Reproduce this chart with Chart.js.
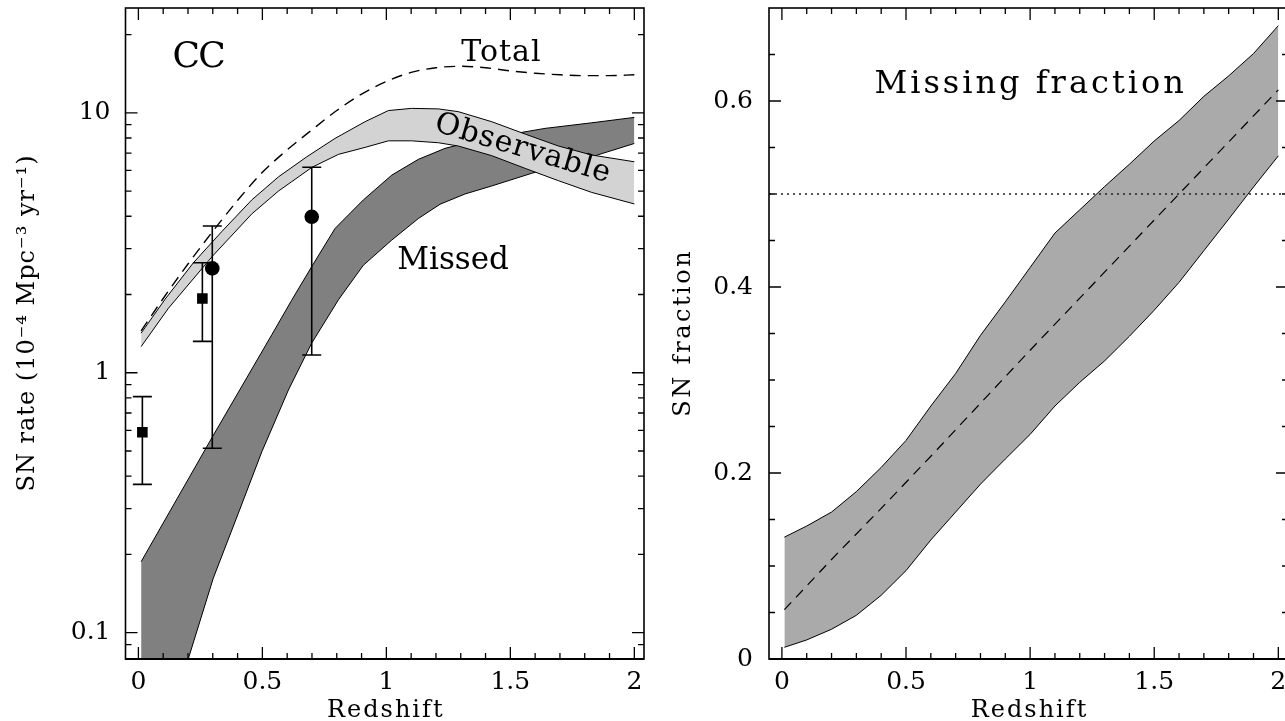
<!DOCTYPE html>
<html><head><meta charset="utf-8">
<script src="https://cdn.jsdelivr.net/npm/chart.js@4.4.1/dist/chart.umd.min.js"></script>
<style>
html,body{margin:0;padding:0;background:#fff;overflow:hidden;width:1285px;height:721px;}
#l{position:absolute;left:0;top:0;width:660px;height:721px;}
#r{position:absolute;left:660px;top:0;width:628px;height:721px;}
</style></head><body>
<div id="l"><canvas id="cl"></canvas></div>
<div id="r"><canvas id="cr"></canvas></div>
<script>
// ---------- data ----------
// Left panel: core-collapse SN rate (10^-4 Mpc^-3 yr^-1) vs redshift
const totalZ    = [0.011,0.1,0.2,0.3,0.4,0.5,0.6,0.7,0.8,0.9,1.0,1.1,1.2,1.3,1.4,1.5,1.6,1.7,1.8,1.9,2.0];
const totalRate = [1.45,1.93,2.62,3.5,4.6,5.9,7.2,8.6,10.2,11.8,13.2,14.3,14.9,15.1,14.9,14.5,14.2,14.0,13.9,13.9,14.0];

const obsUpperZ    = [0.011,0.108,0.222,0.336,0.457,0.565,0.679,0.793,0.914,1.008,1.102,1.21,1.29,1.425,1.56,1.694,1.828,2.0];
const obsUpperRate = [1.42,1.92,2.65,3.49,4.62,5.67,6.77,7.97,9.24,10.2,10.4,10.35,10.1,9.24,8.28,7.45,6.88,6.48];
const obsLowerZ    = [0.011,0.121,0.299,0.457,0.565,0.70,0.807,0.914,1.008,1.102,1.21,1.29,1.425,1.56,1.694,1.828,2.0];
const obsLowerRate = [1.26,1.77,2.81,4.08,5.0,6.17,6.92,7.36,7.8,7.8,7.67,7.45,6.84,6.11,5.48,4.94,4.46];

const missUpperZ    = [0.011,0.3,0.538,0.618,0.699,0.793,0.907,1.022,1.129,1.237,1.371,1.506,1.64,1.828,2.0];
const missUpperRate = [0.1875,0.57,1.40,1.90,2.56,3.59,4.62,5.76,6.62,7.30,7.86,8.28,8.71,9.15,9.60];
const missLowerZ    = [0.011,0.202,0.302,0.403,0.498,0.605,0.699,0.807,0.907,1.022,1.129,1.217,1.317,1.425,1.586,1.828,2.0];
const missLowerRate = [0.03,0.0797,0.162,0.288,0.497,0.858,1.30,1.91,2.59,3.24,3.92,4.45,4.87,5.23,5.85,6.77,7.62];

// measured rates with error bars
const squareZ = [0.016,0.258], squareRate = [0.59,1.93], squareLo = [0.372,1.32], squareHi = [0.809,2.65];
const circleZ = [0.298,0.699], circleRate = [2.52,3.98], circleLo = [0.512,1.17], circleHi = [3.67,6.17];

// Right panel: missing fraction vs redshift
const fracZ     = [0.01,0.1,0.2,0.3,0.4,0.5,0.6,0.7,0.8,0.9,1.0,1.1,1.2,1.3,1.4,1.5,1.6,1.7,1.8,1.9,2.0];
const fracUpper = [0.131,0.143,0.158,0.180,0.206,0.235,0.272,0.307,0.348,0.384,0.421,0.458,0.483,0.508,0.532,0.557,0.579,0.605,0.627,0.651,0.681];
const fracLower = [0.0126,0.0205,0.032,0.047,0.0685,0.095,0.128,0.158,0.188,0.215,0.2415,0.272,0.2975,0.3205,0.347,0.375,0.405,0.439,0.473,0.5075,0.541];
const fracMidZ  = [0.01,0.2,0.4,0.6,0.8,1.0,1.2,1.4,1.6,1.8,2.0];
const fracMid   = [0.053,0.107,0.162,0.218,0.275,0.332,0.388,0.444,0.500,0.556,0.612];
const halfFrac  = 0.5;

// axes & tick labels
const zMin = -0.052, zMax = 2.039;
const rateMin = 0.0792, rateMax = 25.3;
const fracMin = 0, fracMax = 0.7;
const zTicks    = [0,0.5,1,1.5,2];
const rateTicks = [0.1,1,10];
const fracTicks = [0,0.2,0.4,0.6];

// text
const xTitle = 'Redshift';
const leftYTitle = 'SN rate (10\u207B\u2074 Mpc\u207B\u00B3 yr\u207B\u00B9)';
const rightYTitle = 'SN fraction';
const leftNotes = [
  {text:'CC',          z:0.245, v:15.0, size:36, sp:-2, ang:0},
  {text:'Total',       z:1.462, v:15.85, size:30, sp:1, ang:0},
  {text:'Missed',      z:1.269, v:2.50, size:31, sp:0, ang:0},
  {text:'Observable',  z:1.549, v:7.26, size:30, sp:1, ang:16.5, mid:true}
];
const rightNotes = [
  {text:'Missing fraction', z:0.996, v:0.609, size:32, sp:3, ang:0}
];

// ---------- helpers ----------
const FONT = "'DejaVu Serif','Liberation Serif',serif";
const pts = (xs, ys) => xs.map((x, i) => ({x: x, y: ys[i]}));
const zMinor = []; for (let i = 0; i <= 20; i++) zMinor.push(i / 10);
const rateMinor = [0.09];
[0.1,1].forEach(d => { for (let k = 2; k <= 9; k++) rateMinor.push(+(k*d).toFixed(3)); });
rateMinor.push(20);
const fracMinor = []; for (let i = 0; i <= 14; i++) fracMinor.push(+(i*0.05).toFixed(2));

function drawText(ctx, text, px, py, size, sp, ang, baseline) {
  ctx.save();
  ctx.translate(px, py);
  if (ang) ctx.rotate(ang * Math.PI / 180);
  ctx.font = size + 'px ' + FONT;
  try { ctx.letterSpacing = sp + 'px'; } catch (e) {}
  ctx.fillStyle = '#000';
  ctx.textAlign = 'center';
  ctx.textBaseline = baseline || 'alphabetic';
  ctx.fillText(text, sp / 2, 0);
  ctx.restore();
}

function decor(o) {
  return {
    id: 'decor',
    afterDraw(chart) {
      const {ctx, chartArea: a, scales: {x, y}} = chart;
      ctx.save();
      ctx.strokeStyle = '#000';
      ctx.lineWidth = 1.3;
      ctx.beginPath();
      const addX = (v, len) => { const p = x.getPixelForValue(v); if (p < a.left || p > a.right) return;
        ctx.moveTo(p, a.bottom); ctx.lineTo(p, a.bottom - len); ctx.moveTo(p, a.top); ctx.lineTo(p, a.top + len); };
      const addY = (v, len) => { const p = y.getPixelForValue(v); if (p < a.top + 2 || p > a.bottom - 2) return;
        ctx.moveTo(a.left, p); ctx.lineTo(a.left + len, p); ctx.moveTo(a.right, p); ctx.lineTo(a.right - len, p); };
      o.xMajor.forEach(v => addX(v, 12));
      o.xMinor.forEach(v => { if (!o.xMajor.some(m => Math.abs(m - v) < 1e-6)) addX(v, 6); });
      o.yMajor.forEach(v => addY(v, 12));
      o.yMinor.forEach(v => { if (!o.yMajor.some(m => Math.abs(m - v) < 1e-6)) addY(v, 6); });
      ctx.stroke();
      ctx.lineWidth = 1.6;
      ctx.strokeRect(a.left, a.top, a.right - a.left, a.bottom - a.top);
      ctx.lineWidth = 2.2;
      ctx.beginPath(); ctx.moveTo(a.left, a.bottom); ctx.lineTo(a.right, a.bottom); ctx.stroke();
      ctx.restore();
      // annotations anchored in data coordinates
      o.notes.forEach(n => drawText(ctx, n.text, x.getPixelForValue(n.z), y.getPixelForValue(n.v),
        n.size, n.sp, n.ang, n.mid ? 'middle' : 'alphabetic'));
      // axis titles
      drawText(ctx, xTitle, (a.left + a.right) / 2, 717, 24, 2, 0);
      drawText(ctx, o.yTitle, a.left - o.yTitleOff, o.yTitleY, o.yTitleSize, o.yTitleSp, -90);
    }
  };
}

const errorBars = {
  id: 'errbars',
  afterDatasetsDraw(chart) {
    const {ctx, scales: {x, y}} = chart;
    ctx.save();
    ctx.strokeStyle = '#000';
    ctx.lineWidth = 1.6;
    chart.data.datasets.forEach(ds => {
      if (!ds.errLo) return;
      ds.data.forEach((p, i) => {
        const px = x.getPixelForValue(p.x);
        const y1 = y.getPixelForValue(ds.errLo[i]);
        const y2 = y.getPixelForValue(ds.errHi[i]);
        ctx.beginPath();
        ctx.moveTo(px, y1); ctx.lineTo(px, y2);
        ctx.moveTo(px - 9.5, y1); ctx.lineTo(px + 9.5, y1);
        ctx.moveTo(px - 9.5, y2); ctx.lineTo(px + 9.5, y2);
        ctx.stroke();
      });
    });
    ctx.restore();
  }
};

const tickFont = {family: FONT, size: 25};
function xScale() {
  return {
    type: 'linear', min: zMin, max: zMax,
    afterBuildTicks: s => { s.ticks = zTicks.map(v => ({value: v})); },
    afterFit: s => { s.height = 62; s.paddingLeft = 0; s.paddingRight = 0; },
    grid: {display: false, drawTicks: false}, border: {display: false},
    ticks: {font: tickFont, color: '#000', padding: 8, maxRotation: 0, autoSkip: false,
            callback: v => String(v)}
  };
}
function yFit(w) { return s => { s.width = w; s.paddingTop = 0; s.paddingBottom = 0; }; }
const line = (data, extra) => Object.assign({data: data, showLine: true, borderColor: '#000',
  borderWidth: 1, pointRadius: 0, fill: false, tension: 0}, extra);
const common = {
  responsive: true, maintainAspectRatio: false, animation: false,
  plugins: {legend: {display: false}, tooltip: {enabled: false}}
};

// ---------- left chart ----------
new Chart(document.getElementById('cl'), {
  type: 'scatter',
  data: {datasets: [
    {label: 'Measured (squares)', data: pts(squareZ, squareRate), pointStyle: 'rect', pointRadius: 7.5,
     backgroundColor: '#000', borderColor: '#000', borderWidth: 0, errLo: squareLo, errHi: squareHi},
    {label: 'Measured (circles)', data: pts(circleZ, circleRate), pointStyle: 'circle', pointRadius: 7.3,
     backgroundColor: '#000', borderColor: '#000', borderWidth: 0, errLo: circleLo, errHi: circleHi},
    line(pts(totalZ, totalRate), {label: 'Total', borderWidth: 1.4, borderDash: [11, 7], cubicInterpolationMode: 'monotone'}),
    line(pts(obsUpperZ, obsUpperRate), {label: 'Observable upper'}),
    line(pts(obsLowerZ, obsLowerRate), {label: 'Observable lower', fill: '-1', backgroundColor: '#d3d3d3'}),
    line(pts(missUpperZ, missUpperRate), {label: 'Missed upper'}),
    line(pts(missLowerZ, missLowerRate), {label: 'Missed lower', fill: '-1', backgroundColor: '#808080'})
  ]},
  options: Object.assign({}, common, {
    layout: {padding: {top: 8, right: 16, left: 0, bottom: 0}},
    scales: {
      x: xScale(),
      y: {type: 'logarithmic', min: rateMin, max: rateMax,
          afterBuildTicks: s => { s.ticks = rateTicks.map(v => ({value: v})); },
          afterFit: yFit(125.5),
          grid: {display: false, drawTicks: false}, border: {display: false},
          ticks: {font: tickFont, color: '#000', padding: 15, autoSkip: false, callback: v => String(v)}}
    }
  }),
  plugins: [errorBars, decor({xMajor: zTicks, xMinor: zMinor, yMajor: rateTicks, yMinor: rateMinor,
    notes: leftNotes, yTitle: leftYTitle, yTitleOff: 92, yTitleY: 323.5, yTitleSize: 24, yTitleSp: 1})]
});

// ---------- right chart ----------
new Chart(document.getElementById('cr'), {
  type: 'scatter',
  data: {datasets: [
    line(pts([zMin, zMax], [halfFrac, halfFrac]), {label: 'Half', borderWidth: 1.5, borderDash: [2, 4], borderColor: '#222'}),
    line(pts(fracMidZ, fracMid), {label: 'Missing fraction (mean)', borderWidth: 1.2, borderDash: [10, 7]}),
    line(pts(fracZ, fracUpper), {label: 'Missing fraction upper'}),
    line(pts(fracZ, fracLower), {label: 'Missing fraction lower', fill: '-1', backgroundColor: '#aaaaaa'})
  ]},
  options: Object.assign({}, common, {
    layout: {padding: {top: 8, right: 0, left: 0, bottom: 0}},
    scales: {
      x: xScale(),
      y: {type: 'linear', min: fracMin, max: fracMax,
          afterBuildTicks: s => { s.ticks = fracTicks.map(v => ({value: v})); },
          afterFit: yFit(109),
          grid: {display: false, drawTicks: false}, border: {display: false},
          ticks: {font: tickFont, color: '#000', padding: 16, autoSkip: false, callback: v => String(v)}}
    }
  }),
  plugins: [decor({xMajor: zTicks, xMinor: zMinor, yMajor: fracTicks, yMinor: fracMinor,
    notes: rightNotes, yTitle: rightYTitle, yTitleOff: 79, yTitleY: 334, yTitleSize: 24, yTitleSp: 2.5})]
});
</script>
</body></html>
